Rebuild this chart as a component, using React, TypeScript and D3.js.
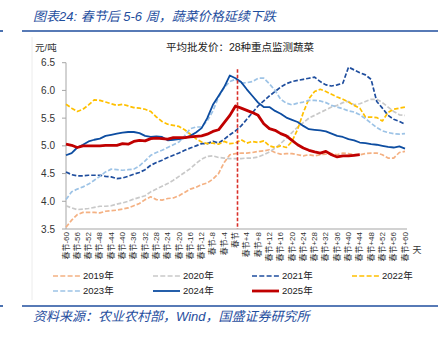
import React from 'react';
import * as d3 from 'd3';

const days = d3.range(-60, 61, 2);

const tickLabels = [
  '春节-60', '春节-56', '春节-52', '春节-48', '春节-44', '春节-40', '春节-36', '春节-32',
  '春节-28', '春节-24', '春节-20', '春节-16', '春节-12', '春节-8', '春节-4', '春节',
  '春节+4', '春节+8', '春节+12', '春节+16', '春节+20', '春节+24', '春节+28', '春节+32',
  '春节+36', '春节+40', '春节+44', '春节+48', '春节+52', '春节+56', '春节+60',
];
const yTicks = [3.5, 4.0, 4.5, 5.0, 5.5, 6.0, 6.5];

const names = ['2019年', '2020年', '2021年', '2022年', '2023年', '2024年', '2025年'];

const v2019 = [
  3.53, 3.66, 3.76, 3.80, 3.80, 3.80, 3.79, 3.82, 3.83, 3.84,
  3.86, 3.88, 3.92, 3.96, 4.03, 4.08, 4.03, 4.02, 4.05, 4.06,
  4.10, 4.16, 4.22, 4.25, 4.30, 4.33, 4.40, 4.50, 4.70, 4.84,
  4.86, 4.87, 4.87, 4.88, 4.90, 4.91, 4.93, 4.88, 4.85, 4.86,
  4.86, 4.84, 4.82, 4.84, 4.82, 4.84, 4.85, 4.86, 4.84, 4.87,
  4.86, 4.84, 4.84, 4.86, 4.87, 4.87, 4.84, 4.78, 4.78, 4.88,
  4.90,
];
const v2020 = [
  3.92, 3.88, 3.85, 3.86, 3.87, 3.89, 3.91, 3.91, 3.92, 3.95,
  3.97, 4.00, 4.04, 4.07, 4.10, 4.17, 4.22, 4.27, 4.32, 4.38,
  4.45, 4.52, 4.59, 4.68, 4.76, 4.81, 4.82, 4.79, 4.78, 4.77,
  4.77, 4.77, 4.78, 4.78, 4.80, 4.84, 4.89, 4.96, 5.04, 5.14,
  5.24, 5.34, 5.42, 5.50, 5.55, 5.60, 5.65, 5.70, 5.73, 5.78,
  5.80, 5.74, 5.76, 5.80, 5.84, 5.84, 5.78, 5.70, 5.62, 5.56,
  5.55,
];
const v2021 = [
  4.53, 4.48, 4.46, 4.46, 4.47, 4.47, 4.47, 4.45, 4.44, 4.41,
  4.42, 4.45, 4.49, 4.52, 4.57, 4.65, 4.70, 4.74, 4.79, 4.83,
  4.87, 4.92, 4.96, 5.00, 5.04, 5.04, 5.08, 5.05, 5.12, 5.20,
  5.27, 5.36, 5.48, 5.60, 5.72, 5.81, 5.90, 5.98, 6.06, 6.12,
  6.16, 6.18, 6.20, 6.22, 6.24, 6.16, 6.10, 6.08, 6.10, 6.13,
  6.42, 6.37, 6.32, 6.28, 6.20, 5.80, 5.68, 5.55, 5.48, 5.44,
  5.39,
];
const v2022 = [
  5.75, 5.68, 5.62, 5.66, 5.74, 5.83, 5.82, 5.79, 5.76, 5.73,
  5.75, 5.72, 5.69, 5.68, 5.66, 5.62, 5.52, 5.44, 5.39, 5.37,
  5.35, 5.29, 5.21, 5.13, 5.07, 5.04, 5.05, 5.03, 5.08, 5.04,
  5.05, 5.11, 5.05, 5.08, 5.06, 5.09, 5.00, 4.97, 5.00, 4.97,
  5.08, 5.30, 5.60, 5.85, 5.98, 6.02, 5.98, 5.93, 5.88, 5.84,
  5.79, 5.73, 5.68, 5.52, 5.52, 5.51, 5.45, 5.60, 5.66, 5.68,
  5.70,
];
const v2023 = [
  4.03, 4.17, 4.22, 4.26, 4.31, 4.38, 4.45, 4.53, 4.58, 4.57,
  4.56, 4.57, 4.58, 4.64, 4.73, 4.83, 4.88, 4.92, 4.97, 5.02,
  5.07, 5.18, 5.31, 5.34, 5.34, 5.45, 5.63, 5.88, 6.05, 6.16,
  6.20, 6.13, 6.14, 6.16, 6.22, 6.22, 6.12, 6.00, 5.84, 5.77,
  5.74, 5.77, 5.79, 5.82, 5.82, 5.81, 5.78, 5.73, 5.70, 5.67,
  5.63, 5.61, 5.56, 5.49, 5.41, 5.33, 5.27, 5.24, 5.22, 5.21,
  5.22,
];
const v2024 = [
  4.83, 4.87, 4.97, 5.02, 5.08, 5.11, 5.13, 5.18, 5.20, 5.22,
  5.24, 5.25, 5.25, 5.23, 5.18, 5.16, 5.17, 5.16, 5.10, 5.11,
  5.12, 5.14, 5.18, 5.24, 5.32, 5.50, 5.74, 5.90, 6.06, 6.27,
  6.22, 6.15, 6.02, 5.90, 5.78, 5.70, 5.70, 5.63, 5.58, 5.51,
  5.47, 5.43, 5.36, 5.30, 5.29, 5.28, 5.26, 5.22, 5.18, 5.16,
  5.12, 5.10, 5.06, 5.05, 5.03, 5.02, 5.00, 4.98, 4.97, 4.99,
  4.95,
];
const v2025: (number | null)[] = [
  5.03, 5.01, 4.97, 5.00, 5.00, 5.00, 5.00, 5.01, 5.01, 5.01,
  5.04, 5.03, 5.08, 5.10, 5.09, 5.13, 5.14, 5.13, 5.12, 5.15,
  5.15, 5.15, 5.16, 5.17, 5.18, 5.21, 5.26, 5.29, 5.42, 5.55,
  5.72, 5.68, 5.64, 5.60, 5.55, 5.40, 5.31, 5.28, 5.22, 5.18,
  5.10, 5.02, 4.96, 4.92, 4.89, 4.87, 4.90, 4.84, 4.80, 4.82,
  4.82, 4.83, 4.84, null, null, null, null, null, null, null,
  null,
];

const colors = ['#F4B183', '#C9C9C9', '#1F4E9E', '#FFC000', '#9DC3E6', '#0D4DA1', '#C00000'];
const widths = [1.7, 1.7, 1.7, 1.7, 1.7, 1.8, 2.8];
const dashed = [true, true, true, true, true, false, false];
const valuesList = [v2019, v2020, v2021, v2022, v2023, v2024, v2025];

const FONT = '"Liberation Sans", Arial, "Noto Sans CJK SC", sans-serif';
const BLUE = '#1F4E9E';

export default function App() {
  const x = d3.scaleLinear().domain([-60, 60]).range([66, 405]);
  const y = d3.scaleLinear().domain([3.5, 6.5]).range([229, 62.7]);
  const tickDays = tickLabels.map((_, i) => -60 + 4 * i);

  const series = names.map((name, i) => ({
    name,
    values: valuesList[i],
    color: colors[i],
    width: widths[i],
    dash: dashed[i],
  }));

  const line = (vals: (number | null)[]) =>
    d3
      .line<number>()
      .defined((_, i) => vals[i] != null)
      .x((_, i) => x(days[i]))
      .y((_, i) => y(vals[i] as number))(days) || '';

  const legendCols = [53, 153, 252, 352];
  const legendRows = [276, 291];

  return (
    <svg
      width={438}
      height={341}
      style={{ position: 'absolute', left: 0, top: 0, background: '#fff' }}
      fontFamily={FONT}
    >
      <rect x={0} y={0} width={438} height={341} fill="#fff" />
      {/* title */}
      <text x={33} y={21} fontSize={13} fontStyle="italic" fill={BLUE}>
        图表24: 春节后 5-6 周，蔬菜价格延续下跌
      </text>
      <line x1={0} x2={3} y1={31} y2={31} stroke={BLUE} strokeWidth={1.6} />
      <line x1={22} x2={438} y1={31} y2={31} stroke={BLUE} strokeWidth={1.6} />
      <line x1={32} x2={32} y1={37} y2={300} stroke="#ececec" strokeWidth={1} />

      {/* chart header */}
      <text x={35} y={51} fontSize={9.5} fill="#333">元/吨</text>
      <text x={240} y={51} fontSize={10.5} fill="#222" textAnchor="middle">
        平均批发价：28种重点监测蔬菜
      </text>

      {/* y axis */}
      <line x1={66} x2={66} y1={y(6.5)} y2={y(3.5)} stroke="#A6A6A6" strokeWidth={1} />
      {yTicks.map((t) => (
        <g key={t}>
          <line x1={62} x2={66} y1={y(t)} y2={y(t)} stroke="#A6A6A6" strokeWidth={1} />
          <text x={55} y={y(t)} dy="0.35em" fontSize={10} textAnchor="end" fill="#333">
            {t.toFixed(1)}
          </text>
        </g>
      ))}

      {/* x axis */}
      <line x1={66} x2={407} y1={229} y2={229} stroke="#A6A6A6" strokeWidth={1.2} />
      {tickLabels.map((lab, i) => (
        <text
          key={lab}
          transform={`translate(${x(tickDays[i])},${232}) rotate(-90)`}
          fontSize={8}
          textAnchor="end"
          dominantBaseline="central"
          fill="#333"
        >
          {lab}
        </text>
      ))}
      <text x={417} y={253} fontSize={9} textAnchor="middle" fill="#333">天</text>

      {/* lines */}
      {series.map((s) => (
        <path
          key={s.name}
          d={line(s.values)}
          fill="none"
          stroke={s.color}
          strokeWidth={s.width}
          strokeDasharray={s.dash ? '4.5 2' : undefined}
          strokeLinejoin="round"
        />
      ))}

      {/* spring festival marker */}
      <line
        x1={x(0) + 2}
        x2={x(0) + 2}
        y1={y(6.38)}
        y2={y(3.5)}
        stroke="#D9302A"
        strokeWidth={1.6}
        strokeDasharray="3.5 2"
      />

      {/* legend */}
      {series.map((s, i) => {
        const cx = legendCols[i % 4];
        const cy = legendRows[Math.floor(i / 4)];
        return (
          <g key={'lg' + s.name}>
            <line
              x1={cx}
              x2={cx + 27}
              y1={cy}
              y2={cy}
              stroke={s.color}
              strokeWidth={s.width}
              strokeDasharray={s.dash ? '5 2.3' : undefined}
            />
            <text x={cx + 30} y={cy} dy="0.35em" fontSize={9.5} fill="#222">
              {s.name}
            </text>
          </g>
        );
      })}

      {/* footer */}
      <line x1={0} x2={3} y1={306} y2={306} stroke={BLUE} strokeWidth={1.6} />
      <line x1={22} x2={438} y1={306} y2={306} stroke={BLUE} strokeWidth={1.6} />
      <text x={33} y={321} fontSize={13} fontStyle="italic" fill={BLUE}>
        资料来源：农业农村部，Wind，国盛证券研究所
      </text>
    </svg>
  );
}
